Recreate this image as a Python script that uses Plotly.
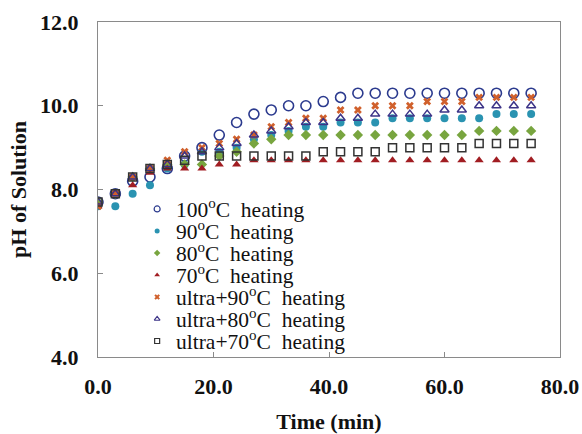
import plotly.graph_objects as go

# Sampling times (min)
time_min = [0, 3, 6, 9, 12, 15, 18, 21, 24, 27, 30, 33, 36, 39, 42, 45, 48, 51, 54, 57, 60, 63, 66, 69, 72, 75]

# pH readings per treatment
ph_100 = [7.7, 7.9, 8.2, 8.3, 8.5, 8.8, 9.0, 9.3, 9.6, 9.8, 9.9, 10.0, 10.0, 10.1, 10.2, 10.3, 10.3, 10.3, 10.3, 10.3, 10.3, 10.3, 10.3, 10.3, 10.3, 10.3]
ph_90 = [7.6, 7.6, 7.9, 8.1, 8.5, 8.6, 8.9, 8.9, 9.0, 9.2, 9.3, 9.4, 9.5, 9.5, 9.6, 9.6, 9.6, 9.7, 9.7, 9.7, 9.7, 9.7, 9.7, 9.8, 9.8, 9.8]
ph_80 = [7.7, 7.9, 8.3, 8.5, 8.6, 8.6, 8.6, 8.8, 8.9, 9.1, 9.2, 9.3, 9.3, 9.3, 9.3, 9.3, 9.3, 9.3, 9.3, 9.3, 9.3, 9.3, 9.4, 9.4, 9.4, 9.4]
ph_70 = [7.6, 7.9, 8.1, 8.4, 8.5, 8.5, 8.5, 8.6, 8.6, 8.7, 8.7, 8.7, 8.7, 8.7, 8.7, 8.7, 8.7, 8.7, 8.7, 8.7, 8.7, 8.7, 8.7, 8.7, 8.7, 8.7]
ph_u90 = [7.6, 7.9, 8.3, 8.5, 8.7, 8.9, 9.0, 9.1, 9.2, 9.3, 9.5, 9.6, 9.7, 9.7, 9.9, 9.9, 10.0, 10.0, 10.0, 10.1, 10.1, 10.1, 10.2, 10.2, 10.2, 10.2]
ph_u80 = [7.7, 7.9, 8.3, 8.5, 8.6, 8.8, 8.9, 9.0, 9.1, 9.3, 9.4, 9.5, 9.6, 9.6, 9.7, 9.7, 9.8, 9.8, 9.8, 9.8, 9.9, 9.9, 10.0, 10.0, 10.0, 10.0]
ph_u70 = [7.7, 7.9, 8.3, 8.5, 8.6, 8.7, 8.8, 8.8, 8.8, 8.8, 8.8, 8.8, 8.8, 8.9, 8.9, 8.9, 8.9, 9.0, 9.0, 9.0, 9.0, 9.0, 9.1, 9.1, 9.1, 9.1]

series_names = [
    "100<sup>o</sup>C\u00a0\u00a0heating",
    "90<sup>o</sup>C\u00a0\u00a0heating",
    "80<sup>o</sup>C\u00a0\u00a0heating",
    "70<sup>o</sup>C\u00a0\u00a0heating",
    "ultra+90<sup>o</sup>C\u00a0\u00a0heating",
    "ultra+80<sup>o</sup>C\u00a0\u00a0heating",
    "ultra+70<sup>o</sup>C\u00a0\u00a0heating",
]
series_values = [ph_100, ph_90, ph_80, ph_70, ph_u90, ph_u80, ph_u70]

# symbol, colour, size, outline width
styles = [
    ("circle-open", "#2B3A8E", 10, 1.6),
    ("circle", "#2A93B1", 8, 0),
    ("diamond", "#78A53F", 8, 0),
    ("triangle-up", "#A11D22", 8, 0),
    ("x", "#D0602C", 7, 0),
    ("triangle-up-open", "#3D3488", 8, 1.5),
    ("square-open", "#333333", 8, 1.5),
]

SERIF = "Liberation Serif, Times New Roman, serif"
AXIS_GRAY = "#8A8A8A"

fig = go.Figure()

for name, vals, (sym, col, size, lw) in zip(series_names, series_values, styles):
    fig.add_trace(go.Scatter(
        x=time_min, y=vals, mode="markers", name=name, showlegend=False,
        marker=dict(symbol=sym, color=col, size=size, line=dict(color=col, width=lw)),
        xaxis="x", yaxis="y",
    ))

# Key drawn inside the plot area on an overlay axis spanning 0..1
key_x = 0.128
key_text_x = 0.171
key_top = 0.442
key_step = 0.0657
for i, (name, (sym, col, size, lw)) in enumerate(zip(series_names, styles)):
    ky = key_top - i * key_step
    fig.add_trace(go.Scatter(
        x=[key_x], y=[ky], mode="markers", showlegend=False, hoverinfo="skip",
        marker=dict(symbol=sym, color=col, size=max(size - 3, 5) if i else 6,
                    line=dict(color=col, width=min(lw, 1.2) if lw else 0)),
        xaxis="x2", yaxis="y2",
    ))
    fig.add_annotation(
        x=key_text_x, y=ky, xref="x2", yref="y2", text=name, showarrow=False,
        xanchor="left", yanchor="middle", xshift=-3,
        font=dict(family=SERIF, size=21.5, color="#111111"),
    )

fig.update_layout(
    width=582, height=434,
    margin=dict(l=98, r=22, t=22, b=77, autoexpand=False),
    paper_bgcolor="white", plot_bgcolor="white",
    font=dict(family=SERIF, color="#111111"),
    xaxis=dict(
        range=[0, 80], dtick=20, tick0=0, tickformat=".1f",
        showgrid=False, zeroline=False, automargin=False,
        showline=True, linecolor=AXIS_GRAY, linewidth=1, mirror=True,
        ticks="inside", ticklen=5, tickcolor=AXIS_GRAY, tickwidth=1,
        tickfont=dict(family=SERIF, size=22, weight="bold", color="#111111"),
        ticklabelstandoff=10,
        title=dict(text="Time (min)", font=dict(family=SERIF, size=22, weight="bold", color="#111111"), standoff=20),
    ),
    yaxis=dict(
        range=[4, 12], dtick=2, tick0=4, tickformat=".1f",
        showgrid=False, zeroline=False, automargin=False,
        showline=True, linecolor=AXIS_GRAY, linewidth=1, mirror=True,
        ticks="inside", ticklen=5, tickcolor=AXIS_GRAY, tickwidth=1,
        tickfont=dict(family=SERIF, size=22, weight="bold", color="#111111"),
        ticklabelstandoff=14,
        title=dict(text="pH of Solution", font=dict(family=SERIF, size=22, weight="bold", color="#111111"), standoff=7),
    ),
    xaxis2=dict(range=[0, 1], overlaying="x", anchor="y2", visible=False, fixedrange=True),
    yaxis2=dict(range=[0, 1], overlaying="y", anchor="x2", visible=False, fixedrange=True),
)

fig.write_html("out.html")
